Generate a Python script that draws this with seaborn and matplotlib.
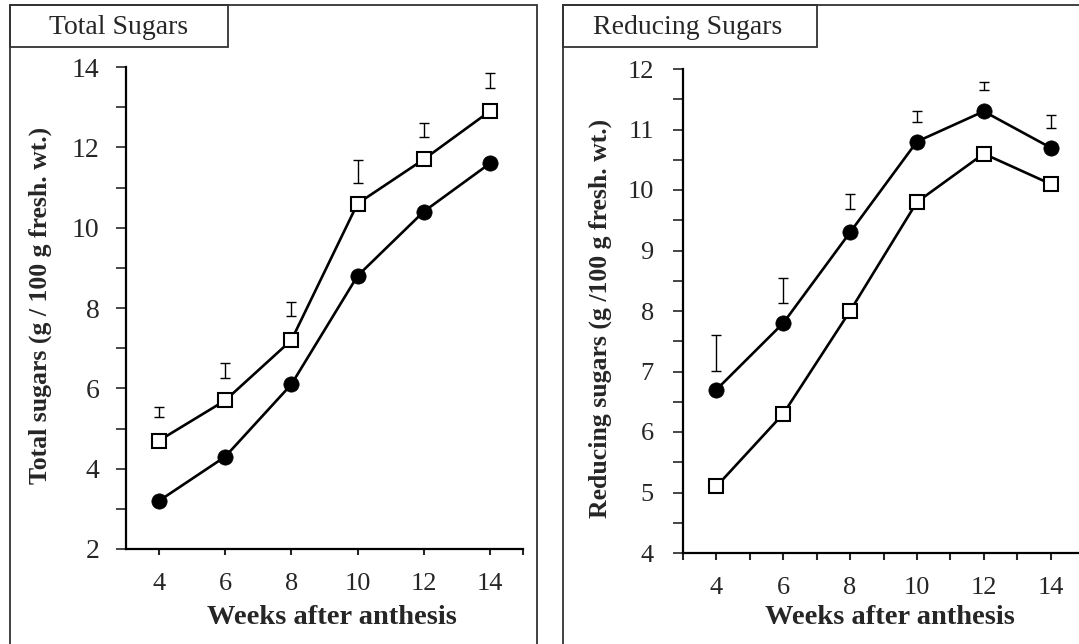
import numpy as np
import pandas as pd
import matplotlib
matplotlib.use("Agg")
import matplotlib.pyplot as plt
import seaborn as sns
from matplotlib.patches import Rectangle
from matplotlib.ticker import MultipleLocator, FixedLocator

# ---------------- data ----------------
weeks = [4, 6, 8, 10, 12, 14]

total_open = [4.7, 5.7, 7.2, 10.6, 11.7, 12.9]
total_filled = [3.2, 4.3, 6.1, 8.8, 10.4, 11.6]
total_bar_lo = [5.29, 6.26, 7.79, 11.11, 12.26, 13.48]
total_bar_hi = [5.54, 6.64, 8.14, 11.69, 12.61, 13.85]

red_filled = [6.7, 7.8, 9.3, 10.8, 11.3, 10.7]
red_open = [5.1, 6.3, 8.0, 9.8, 10.6, 10.1]
red_bar_lo = [7.01, 8.14, 9.68, 11.12, 11.65, 11.02]
red_bar_hi = [7.60, 8.55, 9.93, 11.31, 11.79, 11.24]

left_title = "Total Sugars"
right_title = "Reducing Sugars"
left_ylabel = "Total sugars (g / 100 g fresh. wt.)"
right_ylabel = "Reducing sugars (g /100 g fresh. wt.)"
xlabel = "Weeks after anthesis"

# ---------------- style ----------------
sns.set_style("ticks")
plt.rcParams['font.family'] = ['Liberation Serif', 'DejaVu Serif']

W, H = 1079, 644
fig = plt.figure(figsize=(W / 100, H / 100), dpi=100)


def fx(px):
    return px / W


def fy(py):
    return (H - py) / H


def make_axes(x0, x1, ytop, ybot):
    return fig.add_axes([fx(x0), fy(ybot), fx(x1 - x0), (ybot - ytop) / H])


axL = make_axes(126, 523, 67, 549)
axR = make_axes(683, 1084, 69, 553)


def draw_series(ax, vals, marker, filled, msize):
    df = pd.DataFrame({"week": weeks, "val": vals})
    sns.lineplot(data=df, x="week", y="val", ax=ax, color="black", lw=1.9,
                 marker=marker, markersize=msize,
                 markerfacecolor="black" if filled else "white",
                 markeredgecolor="black", markeredgewidth=1.5 if not filled else 0.5,
                 zorder=3)


def draw_bars(ax, lo, hi):
    lo = np.array(lo)
    hi = np.array(hi)
    mid = (lo + hi) / 2
    half = (hi - lo) / 2
    ax.errorbar(weeks, mid, yerr=half, fmt="none", ecolor="black",
                elinewidth=1.0, capsize=3.5, capthick=1.0, zorder=2)


# Left panel
draw_series(axL, total_open, "s", False, 10.5)
draw_series(axL, total_filled, "o", True, 11)
draw_bars(axL, total_bar_lo, total_bar_hi)
axL.set_xlim(3, 15)
axL.set_ylim(2, 14)
axL.xaxis.set_major_locator(FixedLocator(weeks))
axL.xaxis.set_minor_locator(FixedLocator([15]))
axL.yaxis.set_major_locator(MultipleLocator(2))
axL.yaxis.set_minor_locator(MultipleLocator(1))
axL.tick_params(axis="y", which="both", direction="out", length=7, width=1.2,
                labelsize=20, pad=12)
axL.tick_params(axis="x", which="both", direction="out", length=4, width=1.5,
                labelsize=19, pad=13)

# Right panel
draw_series(axR, red_filled, "o", True, 11)
draw_series(axR, red_open, "s", False, 10.5)
draw_bars(axR, red_bar_lo, red_bar_hi)
axR.set_xlim(3, 15)
axR.set_ylim(4, 12)
axR.xaxis.set_major_locator(FixedLocator(weeks))
axR.xaxis.set_minor_locator(MultipleLocator(1))
axR.yaxis.set_major_locator(MultipleLocator(1))
axR.yaxis.set_minor_locator(MultipleLocator(0.5))
axR.tick_params(axis="y", which="both", direction="out", length=7, width=1.2,
                labelsize=19, pad=14)
axR.tick_params(axis="x", which="both", direction="out", length=5, width=1.5,
                labelsize=19, pad=12)

for ax in (axL, axR):
    sns.despine(ax=ax)
    for s in ("left", "bottom"):
        ax.spines[s].set_linewidth(1.6)
        ax.spines[s].set_color("black")
    ax.set_xlabel("")
    ax.set_ylabel("")
    ax.set_facecolor("white")
    ax.patch.set_alpha(0)

# Axis labels
fig.text(fx(40), fy(305), left_ylabel, rotation=90, ha="center", va="center",
         fontsize=18.5, fontweight="bold")
fig.text(fx(600), fy(318), right_ylabel, rotation=90, ha="center", va="center",
         fontsize=18.5, fontweight="bold")
fig.text(fx(332), fy(618), xlabel, ha="center", va="center",
         fontsize=20.5, fontweight="bold")
fig.text(fx(890), fy(618), xlabel, ha="center", va="center",
         fontsize=20.5, fontweight="bold")

# Panel frames
frame_kw = dict(transform=fig.transFigure, fill=False, edgecolor="#333333",
                linewidth=1.3, clip_on=False, zorder=0)
fig.patches.append(Rectangle((fx(10), -0.02), fx(537 - 10), fy(5) + 0.02, **frame_kw))
fig.patches.append(Rectangle((fx(563), -0.02), fx(1100 - 563), fy(5) + 0.02, **frame_kw))
# Title boxes
fig.patches.append(Rectangle((fx(10), fy(47)), fx(228 - 10), (47 - 5) / H, **frame_kw))
fig.patches.append(Rectangle((fx(563), fy(47)), fx(817 - 563), (47 - 5) / H, **frame_kw))
fig.text(fx(119), fy(27), left_title, ha="center", va="center", fontsize=20)
fig.text(fx(688), fy(27), right_title, ha="center", va="center", fontsize=20)

fig.savefig("out.png", dpi=100, facecolor="white")
